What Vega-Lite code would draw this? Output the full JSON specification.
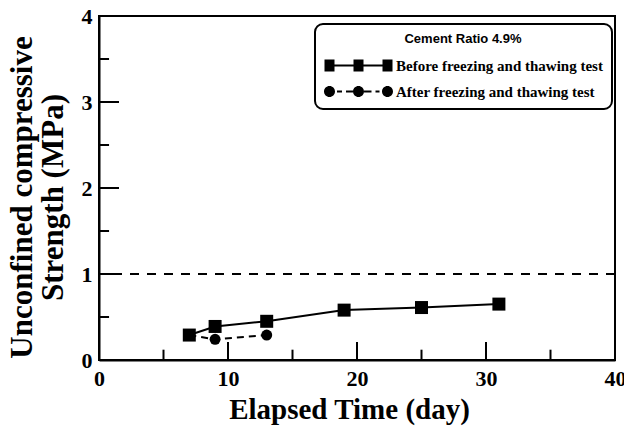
{
  "$schema": "https://vega.github.io/schema/vega-lite/v6.json",
  "width": 516,
  "height": 344,
  "autosize": "none",
  "padding": {"left": 99, "top": 16, "right": 9, "bottom": 75},
  "background": "white",
  "config": {
    "view": {"stroke": "black", "strokeWidth": 2},
    "legend": {"strokeWidth": 2},
    "axis": {
      "domainColor": "black",
      "domainWidth": 2,
      "labelFont": "Liberation Serif",
      "labelFontWeight": "bold",
      "labelFontSize": 22,
      "labelColor": "black",
      "titleFont": "Liberation Serif",
      "titleFontWeight": "bold",
      "titleFontSize": 29,
      "titleColor": "black",
      "grid": false,
      "labelOverlap": false,
      "labelFlush": false
    }
  },
  "datasets": {
    "strength": [
      {"series": "After freezing and thawing test", "day": 7, "strength": 0.29},
      {"series": "After freezing and thawing test", "day": 9, "strength": 0.24},
      {"series": "After freezing and thawing test", "day": 13, "strength": 0.29},
      {"series": "Before freezing and thawing test", "day": 7, "strength": 0.29},
      {"series": "Before freezing and thawing test", "day": 9, "strength": 0.39},
      {"series": "Before freezing and thawing test", "day": 13, "strength": 0.45},
      {"series": "Before freezing and thawing test", "day": 19, "strength": 0.58},
      {"series": "Before freezing and thawing test", "day": 25, "strength": 0.61},
      {"series": "Before freezing and thawing test", "day": 31, "strength": 0.65}
    ],
    "xticks": [
      {"day": 5, "kind": "minor"}, {"day": 10, "kind": "major"},
      {"day": 15, "kind": "minor"}, {"day": 20, "kind": "major"}, {"day": 25, "kind": "minor"},
      {"day": 30, "kind": "major"}, {"day": 35, "kind": "minor"}
    ],
    "yticks": [
      {"strength": 0.5, "kind": "minor"}, {"strength": 1, "kind": "major"},
      {"strength": 1.5, "kind": "minor"}, {"strength": 2, "kind": "major"}, {"strength": 2.5, "kind": "minor"},
      {"strength": 3, "kind": "major"}, {"strength": 3.5, "kind": "minor"}
    ],
    "threshold": [{"strength": 1}]
  },
  "data": {"name": "strength"},
  "resolve": {"axis": {"x": "independent", "y": "independent"}},
  "layer": [
    {
      "data": {"name": "threshold"},
      "mark": {"type": "rule", "color": "black", "strokeWidth": 2, "strokeDash": [9, 8]},
      "encoding": {
        "y": {"field": "strength", "type": "quantitative", "scale": {"domain": [0, 4], "nice": false}, "axis": null}
      }
    },
    {
      "data": {"name": "xticks"},
      "transform": [{"filter": "datum.kind === 'major'"}],
      "mark": {"type": "rule", "color": "black", "strokeWidth": 2},
      "encoding": {
        "x": {"field": "day", "type": "quantitative", "scale": {"domain": [0, 40], "nice": false}, "axis": null},
        "y": {"datum": 0, "type": "quantitative", "scale": {"domain": [0, 4], "nice": false}, "axis": null},
        "y2": {"datum": 0.21}
      }
    },
    {
      "data": {"name": "xticks"},
      "transform": [{"filter": "datum.kind === 'minor'"}],
      "mark": {"type": "rule", "color": "black", "strokeWidth": 2},
      "encoding": {
        "x": {"field": "day", "type": "quantitative", "axis": null},
        "y": {"datum": 0, "type": "quantitative", "axis": null},
        "y2": {"datum": 0.12}
      }
    },
    {
      "data": {"name": "yticks"},
      "transform": [{"filter": "datum.kind === 'major'"}],
      "mark": {"type": "rule", "color": "black", "strokeWidth": 2},
      "encoding": {
        "y": {"field": "strength", "type": "quantitative", "axis": null},
        "x": {"datum": 0, "type": "quantitative", "axis": null},
        "x2": {"datum": 1.55}
      }
    },
    {
      "data": {"name": "yticks"},
      "transform": [{"filter": "datum.kind === 'minor'"}],
      "mark": {"type": "rule", "color": "black", "strokeWidth": 2},
      "encoding": {
        "y": {"field": "strength", "type": "quantitative", "axis": null},
        "x": {"datum": 0, "type": "quantitative", "axis": null},
        "x2": {"datum": 0.78}
      }
    },
    {
      "transform": [{"filter": "datum.series === 'Before freezing and thawing test'"}],
      "mark": {"type": "line", "color": "black", "strokeWidth": 2},
      "encoding": {
        "x": {"field": "day", "type": "quantitative", "axis": null},
        "y": {"field": "strength", "type": "quantitative", "axis": null}
      }
    },
    {
      "transform": [{"filter": "datum.series === 'After freezing and thawing test'"}],
      "mark": {"type": "line", "color": "black", "strokeWidth": 2, "strokeDash": [7, 5]},
      "encoding": {
        "x": {"field": "day", "type": "quantitative", "axis": null},
        "y": {"field": "strength", "type": "quantitative", "axis": null}
      }
    },
    {
      "transform": [{"filter": "datum.series === 'After freezing and thawing test'"}],
      "mark": {"type": "point", "shape": "circle", "filled": true, "color": "black", "opacity": 1, "size": 121},
      "encoding": {
        "x": {"field": "day", "type": "quantitative", "axis": null},
        "y": {"field": "strength", "type": "quantitative", "axis": null}
      }
    },
    {
      "transform": [{"filter": "datum.series === 'Before freezing and thawing test'"}],
      "mark": {"type": "point", "shape": "square", "filled": true, "color": "black", "opacity": 1, "size": 169},
      "encoding": {
        "x": {
          "field": "day",
          "type": "quantitative",
          "scale": {"domain": [0, 40], "nice": false},
          "axis": {
            "orient": "bottom",
            "title": "Elapsed Time (day)",
            "titleX": 250,
            "values": [0, 10, 20, 30, 40],
            "ticks": false,
            "labelPadding": 8,
            "titlePadding": 6
          }
        },
        "y": {
          "field": "strength",
          "type": "quantitative",
          "scale": {"domain": [0, 4], "nice": false},
          "axis": {
            "orient": "left",
            "title": ["Unconfined compressive", "Strength (MPa)"],
            "titleFontSize": 31,
            "titleLineHeight": 31,
            "titleY": 181,
            "values": [0, 1, 2, 3, 4],
            "format": "d",
            "ticks": false,
            "labelPadding": 7,
            "titlePadding": 12
          }
        }
      }
    },
    {
      "transform": [{"filter": "false"}],
      "mark": {"type": "point", "filled": true, "color": "black", "opacity": 1},
      "encoding": {
        "shape": {
          "field": "series",
          "type": "nominal",
          "scale": {
            "domain": ["Before freezing and thawing test", "After freezing and thawing test"],
            "range": [
              "M-1.4,-1.2H0.6V-0.2H4.4V-1.2H6.4V-0.2H10.2V-1.2H12.2V1.2H10.2V0.2H6.4V1.2H4.4V0.2H0.6V1.2H-1.4Z",
              "M-1.5,0A1.1,1.1,0,1,1,0.7,0A1.1,1.1,0,1,1,-1.5,0ZM1.1,-0.2H2.1V0.2H1.1ZM2.9,-0.2H4.3V0.2H2.9ZM4.3,0A1.1,1.1,0,1,1,6.5,0A1.1,1.1,0,1,1,4.3,0ZM6.5,-0.2H8.0V0.2H6.5ZM8.8,-0.2H9.6V0.2H8.8ZM10.1,0A1.1,1.1,0,1,1,12.3,0A1.1,1.1,0,1,1,10.1,0Z"
            ]
          },
          "legend": {
            "title": "Cement Ratio 4.9%",
            "orient": "none",
            "legendX": 216,
            "legendY": 8,
            "padding": 9,
            "strokeColor": "black",
            "cornerRadius": 8,
            "fillColor": "white",
            "titleFont": "Liberation Sans",
            "titleFontSize": 13,
            "titleFontWeight": "bold",
            "titleColor": "black",
            "titleAnchor": "middle",
            "titleAlign": "center",
            "titlePadding": 12,
            "labelFont": "Liberation Serif",
            "labelFontSize": 15,
            "labelFontWeight": "bold",
            "labelColor": "black",
            "labelOffset": 57,
            "labelLimit": 400,
            "rowPadding": 10,
            "symbolSize": 100,
            "symbolStrokeWidth": 0,
            "symbolFillColor": "black",
            "symbolOpacity": 1
          }
        }
      }
    }
  ]
}
